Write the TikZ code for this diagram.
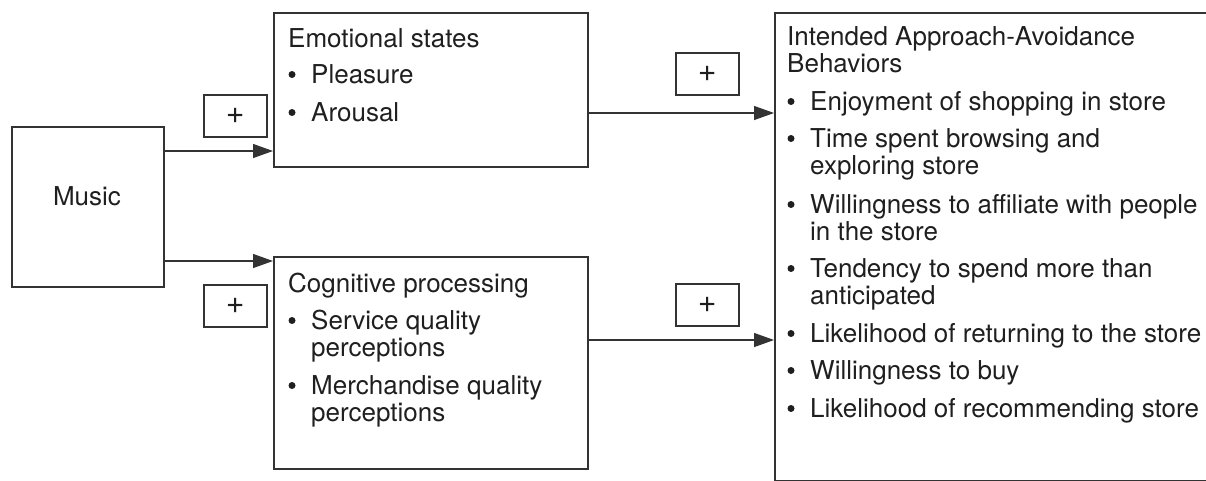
\documentclass[tikz,border=0pt]{standalone}
\usepackage{fontspec}
\setmainfont{TeX Gyre Heros}
\usetikzlibrary{arrows.meta}
\begin{document}
\begin{tikzpicture}[x=1pt,y=-1pt,
  every node/.style={font=\fontsize{26}{27}\selectfont, text=black!88},
  box/.style={draw=black!80, line width=1.6pt, inner sep=0pt, anchor=north west},
  plusbox/.style={draw=black!80, line width=1.6pt, inner sep=0pt,
    minimum width=63pt, minimum height=42pt, anchor=north west,
    font=\fontsize{32}{32}\selectfont},
  txt/.style={anchor=base west, inner sep=0pt},
  dot/.style={circle, fill=black!88, inner sep=0pt, minimum size=7pt},
  arr/.style={draw=black!80, line width=1.3pt, -{Triangle[length=20pt,width=14pt]}}]
\clip (0,0) rectangle (1206,480);

% boxes
\node[box, minimum width=152pt, minimum height=160pt] (music) at (11,126) {};
\node (musiclabel) at (87,196) {Music};
\node[box, minimum width=314pt, minimum height=154pt] (emo) at (273,12) {};
\node[box, minimum width=314pt, minimum height=212pt] (cog) at (273,256) {};
\node[box, minimum width=440pt, minimum height=468pt] (beh) at (774,12) {};

% sign boxes
\node[plusbox] (p1) at (203,94) {+};
\node[plusbox] (p2) at (203,284) {+};
\node[plusbox] (p3) at (675,52) {+};
\node[plusbox] (p4) at (675,283) {+};

% connectors
\coordinate (r1) at (0,151);
\coordinate (r2) at (0,261);
\coordinate (r3) at (0,113);
\coordinate (r4) at (0,340);
\draw[arr] (music.east |- r1) -- (emo.west |- r1);
\draw[arr] (music.east |- r2) -- (cog.west |- r2);
\draw[arr] (emo.east |- r3) -- (beh.west |- r3);
\draw[arr] (cog.east |- r4) -- (beh.west |- r4);

% emotional states
\node[txt] (e0) at (288,47) {Emotional states};
\node[dot] (eb1) at (292,74.5) {};
\node[txt] (e1) at (311,83) {Pleasure};
\node[dot] (eb2) at (292,112.5) {};
\node[txt] (e2) at (311,121) {Arousal};

% cognitive processing
\node[txt] (c0) at (288,292) {Cognitive processing};
\node[dot] (cb1) at (292,320.5) {};
\node[txt] (c1) at (311,329) {Service quality};
\node[txt] (c1b) at (311,356) {perceptions};
\node[dot] (cb2) at (292,385.5) {};
\node[txt] (c2) at (311,394) {Merchandise quality};
\node[txt] (c2b) at (311,421) {perceptions};

% behaviours
\node[txt] (b0) at (787,45) {Intended Approach-Avoidance};
\node[txt] (b0b) at (787,72) {Behaviors};
\node[dot] (bb1) at (791,101.5) {};
\node[txt] (b1) at (810,110) {Enjoyment of shopping in store};
\node[dot] (bb2) at (791,138.5) {};
\node[txt] (b2) at (810,147) {Time spent browsing and};
\node[txt] (b2b) at (810,174) {exploring store};
\node[dot] (bb3) at (791,204.5) {};
\node[txt] (b3) at (810,213) {Willingness to affiliate with people};
\node[txt] (b3b) at (810,240) {in the store};
\node[dot] (bb4) at (791,268.5) {};
\node[txt] (b4) at (810,277) {Tendency to spend more than};
\node[txt] (b4b) at (810,304) {anticipated};
\node[dot] (bb5) at (791,333.5) {};
\node[txt] (b5) at (810,342) {Likelihood of returning to the store};
\node[dot] (bb6) at (791,370.5) {};
\node[txt] (b6) at (810,379) {Willingness to buy};
\node[dot] (bb7) at (791,408.5) {};
\node[txt] (b7) at (810,417) {Likelihood of recommending store};
\end{tikzpicture}
\end{document}
